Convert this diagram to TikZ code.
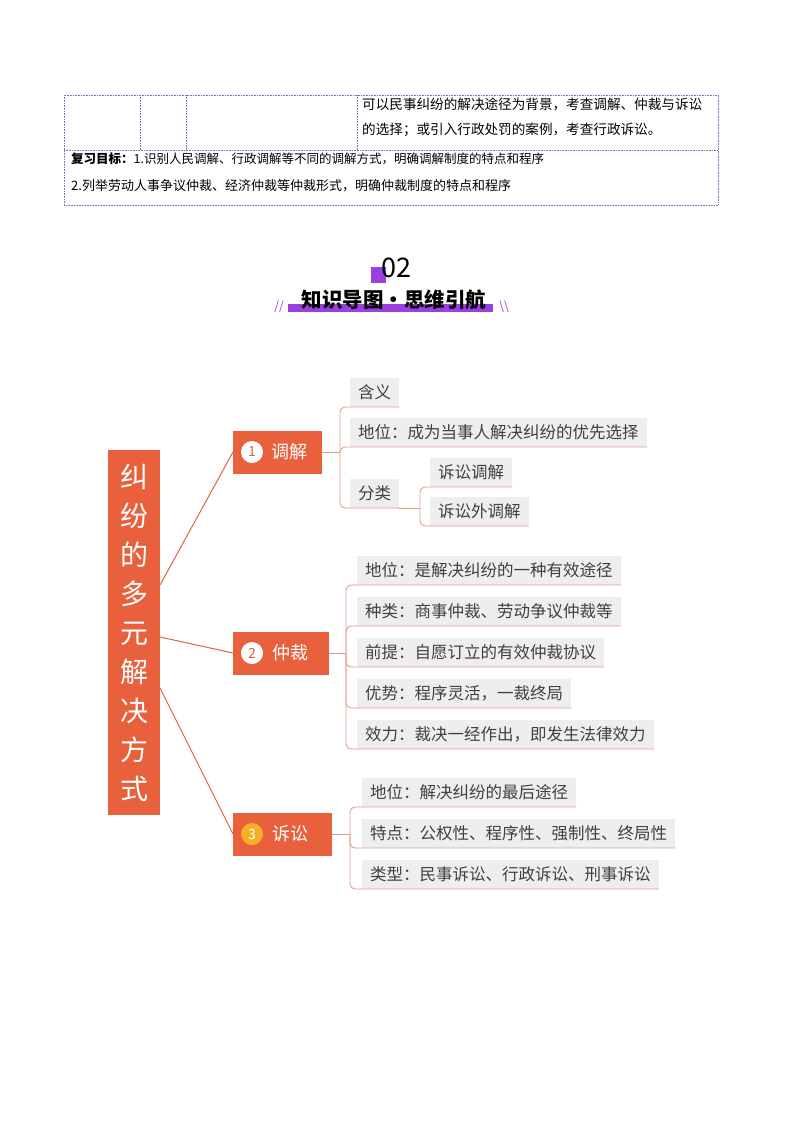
\documentclass[tikz,border=0pt]{standalone}
\usepackage{fontspec}
\setmainfont{Liberation Serif}
\newfontfamily\cjk{Noto Sans CJK SC}
\definecolor{org}{HTML}{E8603C}
\definecolor{pur}{HTML}{9B3FE0}
\definecolor{tb}{HTML}{8A6FC0}
\definecolor{ln}{HTML}{E39A88}
\definecolor{yl}{HTML}{F5B027}
\tikzset{
 tline/.style={draw=tb,densely dotted,line width=0.6pt},
 leaf/.style={fill=gray!13,anchor=south west,minimum height=29pt,inner xsep=8pt,inner ysep=0pt,font=\cjk\fontsize{16.5}{17}\selectfont,text=black!75},
 br/.style={fill=org,minimum height=43pt,anchor=west,inner sep=0pt},
 brt/.style={text=white,anchor=west,inner sep=0pt,font=\cjk\fontsize{18}{19}\selectfont},
 con/.style={draw=ln,line width=0.9pt,rounded corners=5pt},
 rcon/.style={draw=org,line width=1pt}
}
\begin{document}
\begin{tikzpicture}[x=1pt,y=-1pt]
\useasboundingbox (0,0) rectangle (793,1122);
% table
\draw[tline] (64,95) rectangle (718,205);
\draw[tline] (64,150) -- (718,150);
\foreach \x in {140,186,357} \draw[tline] (\x,95) -- (\x,150);
\node[anchor=west,font=\cjk\fontsize{13.6}{14}\selectfont,inner sep=0] (t1) at (362,104) {可以民事纠纷的解决途径为背景，考查调解、仲裁与诉讼};
\node[anchor=west,font=\cjk\fontsize{13.6}{14}\selectfont,inner sep=0] (t2) at (362,130) {的选择；或引入行政处罚的案例，考查行政诉讼。};
\node[anchor=west,font=\cjk\fontsize{12.5}{13}\selectfont,inner sep=0] (t3) at (71,159) {\textbf{复习目标：}1.识别人民调解、行政调解等不同的调解方式，明确调解制度的特点和程序};
\node[anchor=west,font=\cjk\fontsize{13}{13}\selectfont,inner sep=0] (t4) at (71,186) {2.列举劳动人事争议仲裁、经济仲裁等仲裁形式，明确仲裁制度的特点和程序};
% header
\fill[pur] (371,267) rectangle (386,283);
\node[font=\cjk\fontsize{27}{28}\selectfont,inner sep=0] (h0) at (396,268) {02};
\fill[pur] (288,304) rectangle (493,312);
\node[font=\cjk\bfseries\fontsize{20.5}{21}\selectfont,inner sep=0] (h1) at (394,300) {知识导图·思维引航};
\node[font=\cjk\fontsize{12}{12}\selectfont,text=pur,inner sep=0] (h2) at (279,307) {//};
\node[font=\cjk\fontsize{12}{12}\selectfont,text=pur,inner sep=0] (h3) at (504,307) {\textbackslash\textbackslash};
% root
\fill[org] (108,450) rectangle (160,815);
\node[inner sep=0,text=white,font=\cjk\fontsize{28}{38}\selectfont,align=center] (root) at (134,633) {纠\\[1pt]纷\\[1pt]的\\[1pt]多\\[1pt]元\\[1pt]解\\[1pt]决\\[1pt]方\\[1pt]式};
\coordinate (r1) at (160,585);
\coordinate (r2) at (160,637);
\coordinate (r3) at (160,688);
% branches
\node[br,minimum width=89pt] (b1) at (233,452) {};
\node[br,minimum width=96pt] (b2) at (233,653) {};
\node[br,minimum width=99pt] (b3) at (233,834) {};
\node[brt] (bt1) at (271,452) {调解};
\node[brt] (bt2) at (272,653) {仲裁};
\node[brt] (bt3) at (272,834) {诉讼};
\foreach \n/\y in {1/452,2/653} {
 \fill[white] (252,\y) circle (11pt);
 \node[text=org,font=\cjk\fontsize{14}{14}\selectfont,inner sep=0] at (252,\y) {\n};
}
\fill[yl] (252,834) circle (11pt);
\node[text=white,font=\cjk\fontsize{14}{14}\selectfont,inner sep=0] (n3) at (252,834) {3};
\draw[rcon] (r1) -- (b1.west);
\draw[rcon] (r2) -- (b2.west);
\draw[rcon] (r3) -- (b3.west);
% branch 1
\node[leaf] (a1) at (350,407) {含义};
\node[leaf] (a2) at (350,447) {地位：成为当事人解决纠纷的优先选择};
\node[leaf] (a3) at (350,508) {分类};
\node[leaf] (a31) at (430,487) {诉讼调解};
\node[leaf] (a32) at (430,526) {诉讼外调解};
\coordinate (v1) at (340,452);
\draw[con] (b1.east) -- (v1);
\foreach \l in {a1,a2,a3} \draw[con] (v1) |- (\l.south east);
\coordinate (v2) at (420,508);
\draw[con] (a3.south east) -- (v2);
\foreach \l in {a31,a32} \draw[con] (v2) |- (\l.south east);
% branch 2
\coordinate (w) at (346,653);
\draw[con] (b2.east) -- (w);
\node[leaf] (c1) at (357,585) {地位：是解决纠纷的一种有效途径};
\node[leaf] (c2) at (357,626) {种类：商事仲裁、劳动争议仲裁等};
\node[leaf] (c3) at (357,667) {前提：自愿订立的有效仲裁协议};
\node[leaf] (c4) at (357,708) {优势：程序灵活，一裁终局};
\node[leaf] (c5) at (357,749) {效力：裁决一经作出，即发生法律效力};
\foreach \l in {c1,c2,c3,c4,c5} \draw[con] (w) |- (\l.south east);
% branch 3
\coordinate (u) at (350,834);
\draw[con] (b3.east) -- (u);
\node[leaf] (d1) at (362,807) {地位：解决纠纷的最后途径};
\node[leaf] (d2) at (362,848) {特点：公权性、程序性、强制性、终局性};
\node[leaf] (d3) at (362,889) {类型：民事诉讼、行政诉讼、刑事诉讼};
\foreach \l in {d1,d2,d3} \draw[con] (u) |- (\l.south east);
\end{tikzpicture}
\end{document}
